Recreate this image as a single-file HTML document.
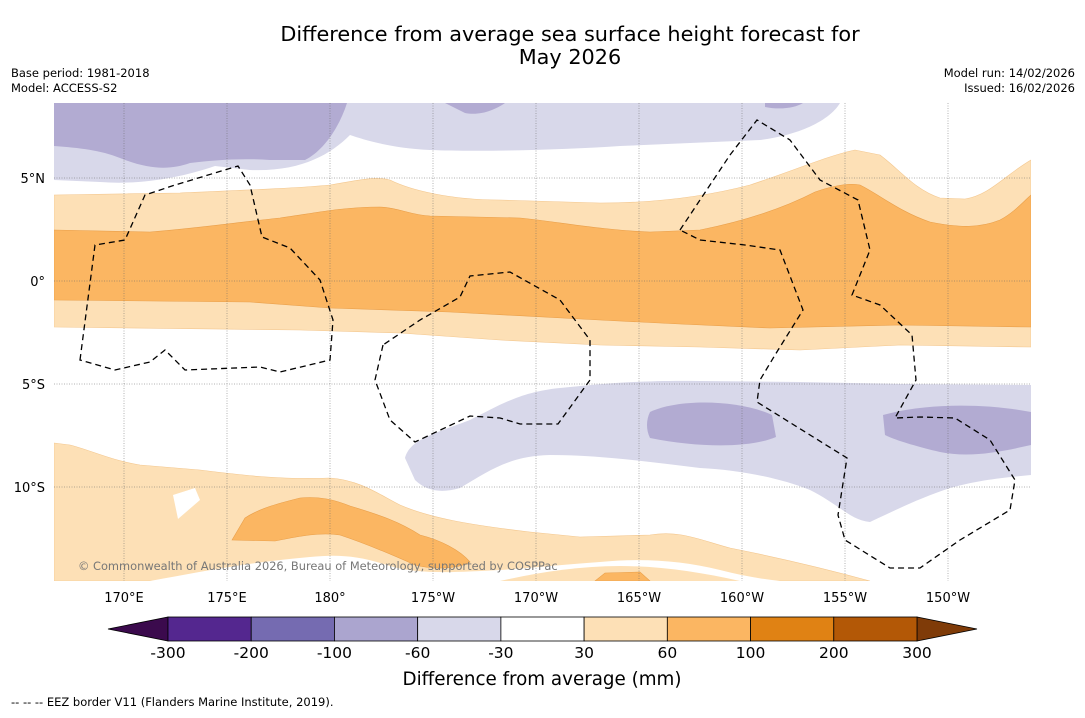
<!DOCTYPE html>
<html><head><meta charset="utf-8"><style>
body{margin:0;background:#fff;font-family:"Liberation Sans","DejaVu Sans",sans-serif;}
svg text{font-family:"DejaVu Sans","Liberation Sans",sans-serif;}
</style></head><body>
<svg width="1085" height="713" viewBox="0 0 1085 713" xmlns="http://www.w3.org/2000/svg">
<rect width="1085" height="713" fill="#fff"/>
<text x="570" y="41" font-size="20.8" text-anchor="middle">Difference from average sea surface height forecast for</text>
<text x="570" y="64" font-size="20.8" text-anchor="middle">May 2026</text>
<text x="11" y="77" font-size="11.5">Base period: 1981-2018</text>
<text x="11" y="92" font-size="11.5">Model: ACCESS-S2</text>
<text x="1075" y="77" font-size="11.5" text-anchor="end">Model run: 14/02/2026</text>
<text x="1075" y="92" font-size="11.5" text-anchor="end">Issued: 16/02/2026</text>
<defs><clipPath id="mc"><rect x="54" y="103" width="977" height="478"/></clipPath></defs>
<g clip-path="url(#mc)">
<path fill="#d8d8ea" d="M54,103 L840,103 C830,120 800,135 760,140 L620,146 C560,150 480,152 430,150 C390,148 365,140 350,135 C330,155 300,172 250,170 L215,166 C180,178 140,185 100,182 L54,180 Z"/>
<path fill="#b2abd2" d="M54,103 L347,103 C340,125 325,150 305,160 L270,160 C240,158 215,160 190,163 C170,170 150,170 120,158 C100,150 80,148 54,146 Z M445,103 L505,103 C495,110 480,116 465,113 Z M765,103 L803,103 C795,108 780,110 765,107 Z"/>
<path fill="#fde0b6" stroke="#f3c78f" stroke-width="0.6" d="M54,195 L180,193 C250,190 300,188 330,185 C360,180 375,176 390,180 C410,190 450,200 500,200 L600,203 C650,203 700,198 750,185 C790,172 830,155 855,150 L880,155 C900,170 915,190 940,198 L965,199 C990,195 1005,175 1031,160 L1031,347 L900,345 L800,350 L700,347 L600,345 L500,340 L400,333 L300,330 L54,327 Z"/>
<path fill="#fbb662" stroke="#e99f4a" stroke-width="0.6" d="M54,230 L150,232 C200,228 240,222 280,218 C310,214 340,207 380,207 C400,208 410,215 430,216 L520,218 C560,222 600,230 650,232 L700,230 C740,222 780,210 815,192 C835,185 850,183 860,185 C880,195 900,212 930,222 C960,228 980,228 1000,220 C1015,212 1025,200 1031,195 L1031,327 L900,325 L770,328 L680,324 L600,320 L450,312 L330,308 L250,302 L54,300 Z"/>
<path fill="#d8d8ea" d="M405,458 C410,440 430,435 470,420 C500,405 520,392 560,388 C600,384 640,380 700,381 L800,382 L900,384 L1031,385 L1031,475 C1000,478 980,480 950,488 C920,498 900,508 870,522 C850,520 840,505 810,490 C780,478 740,470 700,468 C650,462 600,455 550,455 C510,456 490,470 460,488 C440,494 425,490 415,480 Z"/>
<path fill="#b2abd2" d="M650,412 C680,398 740,400 772,415 L776,437 C750,448 700,448 650,438 C646,430 646,420 650,412 Z"/>
<path fill="#b2abd2" d="M883,415 C930,402 990,404 1031,412 L1031,445 C1000,452 970,458 940,452 C915,446 895,440 885,435 Z"/>
<path fill="#fde0b6" stroke="#f3c78f" stroke-width="0.6" d="M54,443 L70,445 C90,450 110,460 140,465 L200,470 C240,475 280,480 330,478 C360,480 380,495 400,505 C430,518 470,525 530,532 L580,537 L650,535 C680,530 700,540 730,548 C780,558 830,570 870,581 L54,581 Z"/>
<path fill="#fff" d="M173,495 L195,488 L200,500 L178,519 Z"/>
<path fill="#fff" d="M150,581 C200,572 250,562 310,557 C340,554 360,556 390,566 C420,575 460,572 500,570 C530,568 560,565 600,562 C640,558 680,560 720,570 C740,575 760,579 780,581 Z"/>
<path fill="#fde0b6" d="M500,581 C540,572 580,566 620,566 C660,566 700,572 740,581 Z"/>
<path fill="#fbb662" stroke="#e99f4a" stroke-width="0.6" d="M232,540 L245,518 C260,508 280,503 300,498 C320,496 335,500 350,506 C380,515 400,522 420,535 C440,540 460,550 470,562 C455,570 430,569 415,565 C395,556 370,545 340,535 C320,532 300,536 275,541 Z M595,581 L605,573 L640,572 L650,581 Z"/>
<g id="grid" stroke="#666" stroke-width="0.5" stroke-dasharray="1,1.5" fill="none"></g>
<path fill="none" stroke="#000" stroke-width="1.3" stroke-dasharray="6,4" d="M80,360 L95,245 L125,240 L145,195 L175,185 L238,166 L250,185 L262,237 L290,248 L320,280 L333,320 L330,360 L280,372 L260,367 L185,370 L165,350 L150,362 L115,370 Z"/>
<path fill="none" stroke="#000" stroke-width="1.3" stroke-dasharray="6,4" d="M383,345 L375,380 L390,420 L415,442 L470,416 L500,418 L520,424 L558,424 L590,380 L590,340 L560,300 L510,272 L470,276 L460,297 L420,320 Z"/>
<path fill="none" stroke="#000" stroke-width="1.3" stroke-dasharray="6,4" d="M680,230 L700,200 L730,155 L757,120 L790,140 L820,180 L858,200 L870,250 L852,295 L880,305 L912,335 L916,380 L895,418 L920,417 L955,418 L990,440 L1015,480 L1010,510 L960,540 L920,568 L890,568 L845,540 L838,515 L847,458 L757,402 L760,380 L775,355 L803,310 L780,250 L745,245 L700,240 Z"/>
<text x="78" y="570" font-size="11.4" fill="#777">© Commonwealth of Australia 2026, Bureau of Meteorology, supported by COSPPac</text>
</g>
<g id="axes" font-size="13"></g>
<g id="cbar"></g>
<text x="542" y="685" font-size="18.3" text-anchor="middle">Difference from average (mm)</text>
<text x="11" y="706" font-size="11.5">--  --  -- EEZ border V11 (Flanders Marine Institute, 2019).</text>
</svg>
<script>
const lonTicks=[170,175,180,185,190,195,200,205,210];
const lonLabels=["170°E","175°E","180°","175°W","170°W","165°W","160°W","155°W","150°W"];
const latTicks=[5,0,-5,-10];
const latLabels=["5°N","0°","5°S","10°S"];
const levels=["-300","-200","-100","-60","-30","30","60","100","200","300"];
const colors=["#54278f","#756bb1","#aba5cf","#d8d8ea","#ffffff","#fde0b6","#fbb662","#e08214","#b35806"];
const NS="http://www.w3.org/2000/svg";
function lonX(l){return 124+(l-170)*20.6;}
function latY(l){return 281-l*20.6;}
const grid=document.getElementById('grid');
const axes=document.getElementById('axes');
lonTicks.forEach((l,i)=>{
 const x=lonX(l);
 const ln=document.createElementNS(NS,'line');
 ln.setAttribute('x1',x);ln.setAttribute('x2',x);ln.setAttribute('y1',103);ln.setAttribute('y2',581);
 
 
 grid.appendChild(ln);
 const t=document.createElementNS(NS,'text');
 t.setAttribute('x',x);t.setAttribute('y',602);t.setAttribute('text-anchor','middle');t.textContent=lonLabels[i];
 
 
 axes.appendChild(t);
});
latTicks.forEach((l,i)=>{
 const y=latY(l);
 const ln=document.createElementNS(NS,'line');
 ln.setAttribute('x1',54);ln.setAttribute('x2',1031);ln.setAttribute('y1',y);ln.setAttribute('y2',y);
 
 
 grid.appendChild(ln);
 const t=document.createElementNS(NS,'text');
 t.setAttribute('x',45);t.setAttribute('y',y+5);t.setAttribute('text-anchor','end');t.textContent=latLabels[i];
 
 
 axes.appendChild(t);
});
const cb=document.getElementById('cbar');
const x0=168,x1=917,y0=617,h=24,w=(x1-x0)/colors.length;
const lt=document.createElementNS(NS,'polygon');
lt.setAttribute('points',`108,${y0+h/2} ${x0},${y0} ${x0},${y0+h}`);lt.setAttribute('fill','#3b0a4d');lt.setAttribute('stroke','#000');lt.setAttribute('stroke-width','0.8');


cb.appendChild(lt);
const rt=document.createElementNS(NS,'polygon');
rt.setAttribute('points',`977,${y0+h/2} ${x1},${y0} ${x1},${y0+h}`);rt.setAttribute('fill','#7f3b08');rt.setAttribute('stroke','#000');rt.setAttribute('stroke-width','0.8');


cb.appendChild(rt);
colors.forEach((c,i)=>{
 const r=document.createElementNS(NS,'rect');
 r.setAttribute('x',x0+i*w);r.setAttribute('y',y0);r.setAttribute('width',w);r.setAttribute('height',h);
 r.setAttribute('fill',c);r.setAttribute('stroke','#000');r.setAttribute('stroke-width','0.8');
 
 
 cb.appendChild(r);
});
levels.forEach((v,i)=>{
 const t=document.createElementNS(NS,'text');
 t.setAttribute('x',x0+i*w);t.setAttribute('y',658);t.setAttribute('text-anchor','middle');t.setAttribute('font-size','15.5');
 t.textContent=v;
 
 
 cb.appendChild(t);
});
</script>
</body></html>
